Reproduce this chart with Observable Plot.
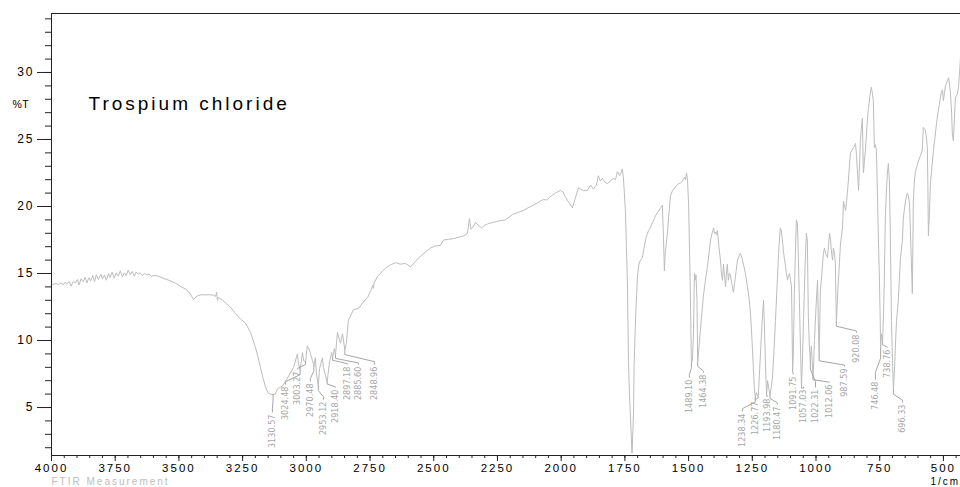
<!DOCTYPE html>
<html><head><meta charset="utf-8">
<script src="https://cdn.jsdelivr.net/npm/d3@7"></script>
<script src="https://cdn.jsdelivr.net/npm/@observablehq/plot@0.6"></script>
<style>
html,body{margin:0;padding:0;background:#fff;}
#chart svg text{letter-spacing:2px;}
#chart g[aria-description="peaklabels"] text{letter-spacing:0;}
#chart g[aria-description="title"] text{letter-spacing:3px;}
#chart g[aria-description="ylabel"] text{letter-spacing:0.5px;}
</style></head>
<body><div id="chart"></div>
<script>
// Spectrum: [wavenumber (1/cm), %T]
const spectrum = [
[4000,14.2],[3995,14.2],[3982,14.25],[3972,14.18],[3962,14.3],[3955,14.15],[3946,14.35],[3940,14.2],
[3930,14.42],[3923,14.05],[3915,14.4],[3906,14.3],[3898,14.55],[3892,14.15],[3884,14.6],[3876,14.38],
[3868,14.72],[3861,14.3],[3853,14.68],[3846,14.45],[3838,14.85],[3831,14.4],[3824,14.9],[3816,14.55],
[3806,14.95],[3800,14.6],[3792,14.9],[3785,14.5],[3776,15.0],[3770,14.7],[3762,15.1],[3754,14.65],
[3746,15.05],[3738,14.8],[3730,15.2],[3722,14.75],[3714,15.05],[3707,14.85],[3699,15.25],[3691,14.9],
[3683,15.15],[3675,14.8],[3668,15.1],[3660,14.95],[3652,15.05],[3643,14.85],[3634,15.0],[3626,14.9],
[3617,14.95],[3608,14.8],[3598,14.85],
[3585,14.82],[3570,14.72],[3555,14.6],[3540,14.5],[3525,14.38],[3510,14.25],[3495,14.05],[3475,13.85],
[3460,13.6],[3450,13.3],[3443,13.05],[3436,13.2],[3425,13.35],[3410,13.42],[3395,13.4],[3380,13.42],
[3365,13.38],[3356,13.3],[3352,13.6],[3349,13.0],[3345,13.2],[3330,13.05],[3317,12.8],[3298,12.5],
[3278,12.0],[3258,11.6],[3239,11.3],[3219,10.6],[3210,10.1],[3200,9.5],[3190,8.8],[3180,8.0],
[3170,7.2],[3160,6.5],[3150,6.1],[3140,5.98],[3131,5.97],[3122,6.0],[3113,6.4],[3094,6.6],
[3074,7.2],[3050,8.0],[3035,9.0],[3031,8.3],[3024.5,7.8],[3015,9.1],[3011,8.5],[3003.3,8.4],
[2996,9.6],[2988,9.3],[2976,8.5],[2970.5,8.1],[2965,8.7],[2960,7.5],[2953.1,6.6],[2948,7.9],
[2937,8.7],[2933,8.0],[2925,7.4],[2918.4,6.9],[2909,8.4],[2901,9.1],[2897.2,8.7],[2890,9.4],
[2885.6,8.9],[2878,10.6],[2866,9.8],[2858,10.5],[2849,9.3],[2843,9.8],[2835,11.5],[2815,12.3],
[2795,12.4],[2775,12.9],[2760,13.2],[2745,13.8],[2740,14.1],[2737,13.9],[2734,14.3],[2720,14.8],
[2700,15.2],[2689,15.4],[2670,15.65],[2650,15.8],[2631,15.7],[2611,15.75],[2591,15.5],[2572,15.9],
[2552,16.3],[2533,16.6],[2513,16.9],[2494,17.05],[2474,17.1],[2462,17.5],[2443,17.55],[2423,17.6],
[2403,17.7],[2383,17.8],[2368,18.0],[2360,19.1],[2354,18.3],[2348,18.4],[2336,18.8],[2325,18.6],
[2313,18.4],[2300,18.6],[2289,18.7],[2270,18.8],[2250,18.9],[2235,18.95],[2219,19.0],[2205,19.2],
[2191,19.4],[2170,19.55],[2148,19.7],[2130,19.9],[2109,20.1],[2090,20.3],[2073,20.5],[2054,20.5],
[2038,20.8],[2022,21.0],[2003,21.2],[1993,21.1],[1983,20.7],[1970,20.3],[1956,19.9],[1945,20.6],
[1932,21.4],[1915,21.2],[1897,21.2],[1885,21.6],[1873,21.3],[1862,21.6],[1854,22.3],[1846,21.9],
[1838,22.1],[1828,21.8],[1818,21.7],[1805,21.95],[1795,22.1],[1787,22.0],[1779,22.6],[1770,22.3],
[1767,22.4],[1760,22.8],[1756,22.2],[1752,21.0],[1748,19.7],[1744,17.0],[1740,14.3],[1736,8.5],
[1732,6.0],[1728,4.3],[1724,2.5],[1722,1.6],[1720,2.5],[1716,4.6],[1714,8.0],[1708,11.7],
[1701,14.7],[1695,15.7],[1689,16.0],[1681,16.2],[1675,16.9],[1669,17.5],[1663,17.9],[1657,18.2],
[1650,18.4],[1642,18.8],[1636,19.0],[1630,19.3],[1620,19.6],[1610,19.9],[1603,20.1],[1599,18.0],
[1595,15.2],[1591,16.7],[1587,17.3],[1583,18.0],[1577,19.5],[1571,20.8],[1565,21.1],[1559,21.3],
[1550,21.5],[1540,21.7],[1532,21.75],[1524,21.9],[1516,22.2],[1512,22.0],[1508,22.5],[1504,21.9],
[1500,20.2],[1496,16.5],[1493,13.5],[1489.1,8.3],[1485,8.5],[1481,10.5],[1477,15.0],[1474,14.5],
[1471,14.9],[1467,13.0],[1464.4,8.3],[1458,9.8],[1450,11.6],[1442,13.3],[1434,14.5],[1426,15.5],
[1418,16.8],[1414,17.5],[1408,18.0],[1402,18.4],[1398,18.0],[1395,18.1],[1391,17.9],[1387,18.2],
[1381,17.0],[1375,16.0],[1371,15.0],[1367,14.5],[1363,15.7],[1359,14.8],[1355,14.0],[1351,15.2],
[1348,15.7],[1344,14.5],[1340,15.0],[1336,14.9],[1330,14.2],[1324,13.6],[1316,14.8],[1308,16.0],
[1302,16.3],[1297,16.5],[1291,16.2],[1285,15.7],[1277,15.0],[1269,14.0],[1263,13.2],[1257,12.0],
[1251,10.0],[1246,8.0],[1242,6.5],[1238.3,5.75],[1234,6.1],[1230,5.9],[1226.8,5.8],[1222,7.5],
[1218,9.0],[1212,11.2],[1206,13.0],[1202,10.8],[1198,8.0],[1194,6.0],[1190,7.0],[1185,6.4],
[1180.5,5.9],[1176,6.5],[1171,7.2],[1165,9.2],[1159,11.5],[1153,14.0],[1147,16.5],[1143,17.7],
[1140,18.4],[1136,18.2],[1132,17.5],[1128,16.7],[1124,16.1],[1120,15.6],[1116,15.0],[1112,14.5],
[1108,14.8],[1104,15.0],[1100,14.5],[1096,14.0],[1094,11.0],[1091.8,7.8],[1089,9.0],[1085,13.5],
[1081,16.5],[1077,19.0],[1073,18.8],[1069,16.0],[1065,12.8],[1061,9.5],[1057,6.5],[1053,8.7],
[1049,11.5],[1043,15.5],[1038,18.0],[1034,17.5],[1030,11.7],[1026,9.6],[1022.3,8.5],[1018,9.6],
[1015,8.5],[1012.1,7.2],[1009,8.4],[1006,10.0],[1000,12.5],[994,14.5],[991,11.5],[987.6,8.7],
[983,13.7],[977,15.0],[971,16.5],[967,16.9],[961,16.4],[955,16.2],[951,17.0],[947,18.0],
[943,17.5],[939,16.5],[935,16.0],[932,16.9],[928,16.6],[924,15.8],[922,13.5],[920.1,11.3],
[916,13.0],[912,14.5],[908,15.8],[904,17.2],[900,17.8],[896,18.4],[892,20.4],[888,20.0],
[884,19.7],[880,20.4],[877,21.0],[873,21.9],[869,23.0],[865,24.0],[859,24.2],[853,24.4],
[849,24.5],[845,24.7],[841,23.8],[837,22.5],[833,21.2],[829,23.2],[826,24.9],[822,25.8],
[818,26.6],[816,24.5],[814,22.5],[810,23.4],[806,24.2],[800,26.0],[794,27.4],[789,28.2],
[783,28.9],[779,28.5],[775,27.9],[771,24.4],[767,24.6],[763,24.2],[759,21.0],[755,17.5],
[751,14.5],[748,11.5],[746.5,9.4],[742.5,10.5],[738.8,9.8],[735,12.0],[732,14.5],[728,19.2],
[724,21.0],[720,22.5],[716,23.2],[712,21.9],[708,17.5],[704,11.5],[700,8.5],[696.3,6.3],
[692,7.8],[688,9.8],[684,11.5],[677,13.0],[673,14.5],[669,16.0],[665,16.8],[661,17.5],
[657,19.2],[653,19.8],[649,20.4],[645,20.8],[641,21.0],[637,20.7],[633,20.2],[630,18.4],
[626,16.0],[622,13.5],[618,20.4],[614,21.9],[610,22.6],[604,23.0],[598,23.4],[590,23.8],
[583,24.2],[579,25.9],[575,25.8],[571,25.7],[567,25.2],[563,24.4],[561,21.5],[559,17.8],
[555,19.5],[551,21.7],[545,23.0],[539,24.2],[533,25.2],[527,26.2],[520,27.2],[516,27.6],
[512,28.1],[508,28.5],[504,28.7],[500,27.9],[496,28.5],[492,29.0],[488,29.2],[484,29.4],
[480,29.6],[476,29.1],[472,28.4],[468,27.0],[465,25.4],[461,24.9],[457,26.5],[453,28.1],
[449,28.3],[445,28.4],[441,28.9],[437,29.9],[433,31.1]
];

// Labelled peaks
const peakWn = [3130.57,3024.48,3003.27,2970.48,2953.12,2918.40,2897.18,2885.60,2848.96,
  1489.10,1464.38,1238.34,1226.77,1193.98,1180.47,1091.75,1057.03,1022.31,1012.06,987.59,920.08,746.48,738.76,696.33];
const peakT = [5.97,7.8,8.4,8.1,6.6,6.9,8.7,8.9,9.3,
  8.3,8.3,5.75,5.8,6.0,5.9,7.8,6.5,8.5,7.2,8.7,11.3,9.4,9.8,6.3];
// Where each peak label sits (wavenumber, %T of the label's top end)
const labelWn = [3133,3082,3035,2984,2933,2886,2839,2795,2733,
  1497,1442,1289,1238,1191,1151,1089,1049,1002,947,888,841,767,720,661];
const labelT = [4.55,6.64,7.76,6.87,5.52,6.42,8.13,8.13,8.13,
  7.16,7.54,4.63,5.52,5.75,5.15,7.39,6.42,6.42,6.79,7.99,10.52,7.01,9.40,5.30];

const xTicks = [4000,3750,3500,3250,3000,2750,2500,2250,2000,1750,1500,1250,1000,750,500];
const yTicks = [5,10,15,20,25,30];
const xDomain = [4000, 433];
const yDomain = [1.42, 34.4];

const series = spectrum.map(([w, t]) => ({w, t}));
const peaks = peakWn.map((w, i) => ({w, t: peakT[i], lw: labelWn[i], lt: labelT[i], text: d3.format(".2f")(w)}));
const leaders = peaks.flatMap((p, i) => {
  const d = p.t - p.lt;
  return [
    {id: i, w: p.w, t: p.t},
    {id: i, w: p.w, t: p.t - 0.3 * d},
    {id: i, w: p.lw, t: p.t - 0.75 * d},
    {id: i, w: p.lw, t: p.lt + 0.1}
  ];
});

const lineGray = "#bdbdbd";
const labelGray = "#a6a6a6";
const font = "'Liberation Sans', Arial, sans-serif";
const narrow = "'Liberation Sans Narrow', 'DejaVu Sans Condensed', 'Liberation Sans', sans-serif";

const chart = Plot.plot({
  width: 960,
  height: 487,
  marginLeft: 51,
  marginRight: 0,
  marginTop: 13,
  marginBottom: 32,
  style: {fontFamily: font, fontSize: "12px", background: "#fff", color: "#000", overflow: "visible"},
  x: {domain: xDomain},
  y: {domain: yDomain},
  marks: [
    Plot.line(series, {x: "w", y: "t", stroke: lineGray, strokeWidth: 1}),
    Plot.line(leaders, {x: "w", y: "t", z: "id", stroke: labelGray, strokeWidth: 1}),
    Plot.text(peaks, {x: "lw", y: "lt", text: "text", rotate: -90, textAnchor: "end", lineAnchor: "middle",
      dy: 1, fill: labelGray, fontSize: 9, fontFamily: narrow, ariaDescription: "peaklabels"}),
    Plot.ruleY([yDomain[1]], {stroke: "#222"}),
    Plot.ruleY([yDomain[0]], {stroke: "#222"}),
    Plot.ruleX([xDomain[0]], {stroke: "#222"}),
    Plot.axisX({ticks: d3.range(4000, 433, -50), tickSize: 3, tickFormat: () => "", stroke: "#222"}),
    Plot.axisX({ticks: xTicks, tickSize: 6, tickPadding: 2, tickFormat: d => String(d), stroke: "#222", fill: "#000", fontSize: 11.5}),
    Plot.axisY({ticks: d3.range(2, 35), tickSize: 6, tickFormat: () => "", stroke: "#222"}),
    Plot.axisY({ticks: yTicks, tickSize: 14, tickPadding: 3, tickFormat: d => String(d), stroke: "#222", fill: "#000", fontSize: 12}),
    Plot.text(["%T"], {frameAnchor: "top-left", text: d => d, dx: -39, dy: 91, textAnchor: "start", lineAnchor: "middle",
      fontSize: 10.5, fill: "#000", ariaDescription: "ylabel"}),
    Plot.text(["Trospium chloride"], {frameAnchor: "top-left", text: d => d, dx: 37, dy: 90, textAnchor: "start", lineAnchor: "middle",
      fontSize: 19, fill: "#000", ariaDescription: "title"}),
    Plot.text(["FTIR Measurement"], {frameAnchor: "bottom-left", text: d => d, dx: 0, dy: 26.5, textAnchor: "start", lineAnchor: "middle",
      fontSize: 10, fill: "#bdbdbd"}),
    Plot.text(["1/cm"], {frameAnchor: "bottom-right", text: d => d, dx: -30, dy: 26.5, textAnchor: "start", lineAnchor: "middle",
      fontSize: 10, fill: "#000"})
  ]
});
document.getElementById("chart").append(chart);
</script>
</body></html>
